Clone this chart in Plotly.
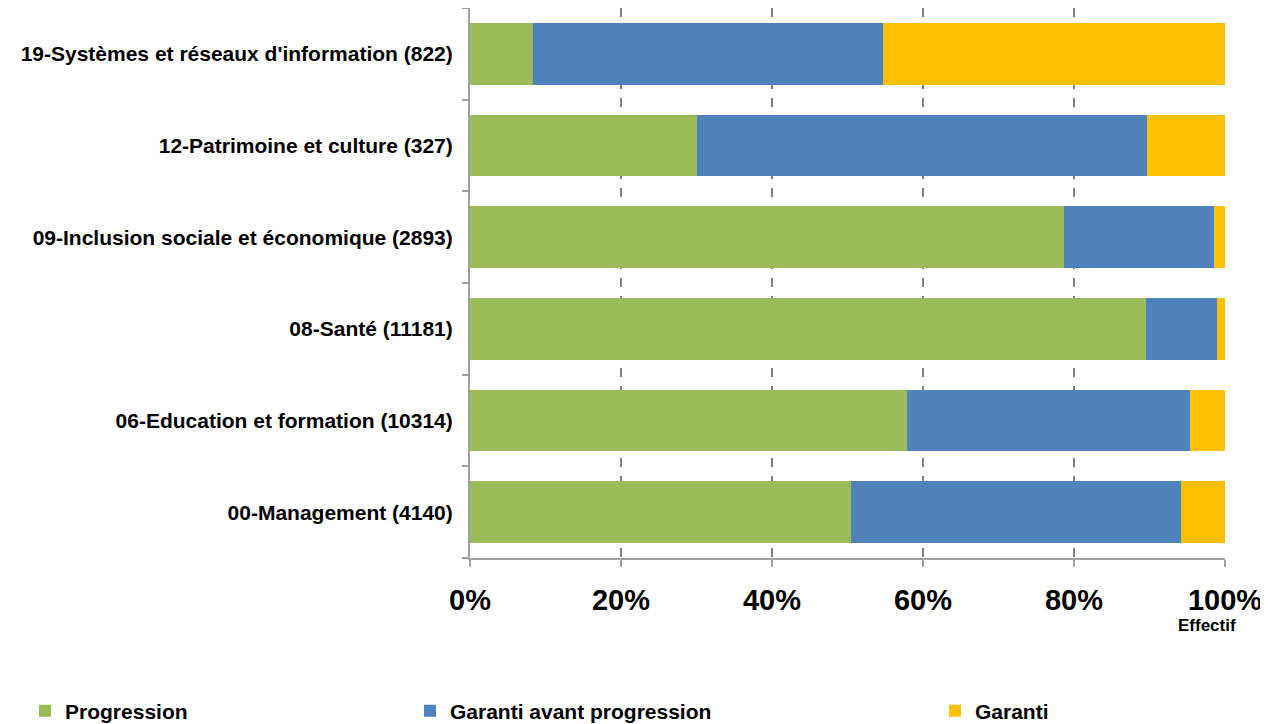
import plotly.graph_objects as go

categories = [
    "00-Management (4140)",
    "06-Education et formation (10314)",
    "08-Santé (11181)",
    "09-Inclusion sociale et économique (2893)",
    "12-Patrimoine et culture (327)",
    "19-Systèmes et réseaux d'information (822)",
]
progression = [50.5, 57.9, 89.5, 78.7, 30.1, 8.3]
garanti_avant = [43.7, 37.5, 9.4, 19.8, 59.6, 46.4]
garanti = [5.8, 4.6, 1.1, 1.5, 10.3, 45.3]

series_names = ["Progression", "Garanti avant progression", "Garanti"]
series_values = [progression, garanti_avant, garanti]
colors = ["#9BBB59", "#4F81BD", "#FFC000"]
legend_ids = ["legend", "legend2", "legend3"]

tick_vals = [0, 20, 40, 60, 80, 100]
tick_text = ["0%", "20%", "40%", "60%", "80%", "100%"]

FONT = "Liberation Sans, Arial, sans-serif"

fig = go.Figure()
for name, vals, col, lg in zip(series_names, series_values, colors, legend_ids):
    fig.add_trace(go.Bar(
        y=categories, x=vals, name="<b>" + name + "</b>", orientation="h",
        marker=dict(color=col, line=dict(width=0)),
        legend=lg, showlegend=True,
    ))

leg_common = dict(orientation="h", xref="container", yref="container",
                  yanchor="middle", y=0.018, xanchor="left",
                  font=dict(family=FONT, size=21, color="#000000"),
                  bgcolor="rgba(0,0,0,0)", borderwidth=0)

fig.update_layout(
    width=1260, height=716,
    showlegend=True,
    barmode="stack", bargap=0.33,
    plot_bgcolor="white", paper_bgcolor="white",
    margin=dict(l=462, r=43, t=0, b=166, autoexpand=False),
    font=dict(family=FONT, color="#000000"),
    legend=dict(x=0.0135, **leg_common),
    legend2=dict(x=0.319, **leg_common),
    legend3=dict(x=0.7357, **leg_common),
    xaxis=dict(
        range=[0, 100], tickvals=tick_vals,
        ticktext=["<b>" + t + "</b>" for t in tick_text],
        tickfont=dict(family=FONT, size=29, color="#000000"),
        showgrid=True, gridcolor="#808080", gridwidth=2, griddash="dash",
        showline=True, linecolor="#A0A0A0", linewidth=2,
        ticks="outside", ticklen=7, tickcolor="#A0A0A0", tickwidth=2,
        ticklabelstandoff=8,
        zeroline=False, fixedrange=True,
    ),
    yaxis=dict(
        categoryorder="array", categoryarray=categories,
        tickvals=categories,
        ticktext=["<b>" + c + "</b>" for c in categories],
        tickfont=dict(family=FONT, size=21, color="#000000"),
        showline=True, linecolor="#A0A0A0", linewidth=2,
        ticks="outside", ticklen=6, tickcolor="#A0A0A0", tickwidth=2,
        tickson="boundaries", ticklabelstandoff=11,
        showgrid=False, zeroline=False,
    ),
    annotations=[dict(
        text="<b>Effectif</b>", x=100, xref="x", y=-0.122, yref="paper",
        xanchor="center", yanchor="middle", showarrow=False, xshift=-18,
        font=dict(family=FONT, size=17, color="#000000"),
    )],
)

fig.write_html("out.html")
